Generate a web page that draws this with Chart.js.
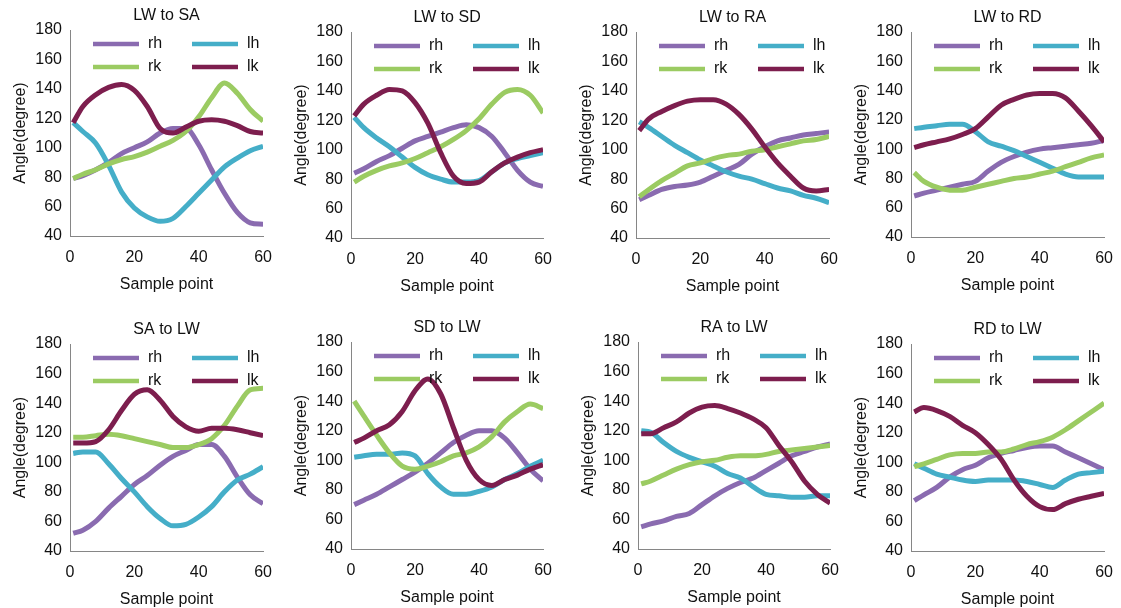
<!DOCTYPE html>
<html>
<head>
<meta charset="utf-8">
<script src="https://cdn.jsdelivr.net/npm/chart.js@4.4.0/dist/chart.umd.min.js"></script>
<style>
  html, body { margin: 0; padding: 0; background: #ffffff; }
  #wrap { position: relative; width: 1121px; height: 608px; overflow: hidden; background: #ffffff; }
  canvas { position: absolute; }
</style>
</head>
<body>
<div id="wrap"></div>
<script>
// ---------- data ----------
const samplePoints = [1, 4, 8, 12, 16, 20, 24, 28, 32, 36, 40, 44, 48, 52, 56, 60];
const seriesNames = ['rh', 'lh', 'rk', 'lk'];
const yTicks = [40, 60, 80, 100, 120, 140, 160, 180];
const xTicks = [0, 20, 40, 60];
const panelTitles = ['LW to SA', 'LW to SD', 'LW to RA', 'LW to RD', 'SA to LW', 'SD to LW', 'RA to LW', 'RD to LW'];

// LW to SA
const lwSA_rh = [79, 81, 85, 90, 96, 100, 104, 110, 113, 113, 102, 85, 69, 56, 49, 48];
const lwSA_lh = [117, 111, 103, 88, 70, 59, 53, 50, 52, 60, 69, 78, 87, 93, 98, 101];
const lwSA_rk = [79, 82, 85, 89, 92, 94, 97, 101, 105, 111, 121, 134, 144, 137, 126, 118];
const lwSA_lk = [117, 128, 136, 141, 143, 139, 128, 113, 110, 114, 118, 119, 118, 115, 111, 110];
// LW to SD
const lwSD_rh = [84, 87, 92, 96, 101, 106, 109, 112, 115, 117, 115, 109, 98, 86, 78, 75];
const lwSD_lh = [122, 115, 108, 102, 95, 88, 83, 80, 78, 78, 79, 85, 91, 94, 96, 98];
const lwSD_rk = [78, 82, 86, 89, 91, 94, 98, 102, 107, 113, 121, 131, 139, 141, 137, 125];
const lwSD_lk = [123, 131, 137, 141, 140, 132, 118, 98, 82, 77, 78, 85, 91, 95, 98, 100];
// LW to RA
const lwRA_rh = [66, 69, 73, 75, 76, 78, 82, 86, 90, 97, 102, 106, 108, 110, 111, 112];
const lwRA_lh = [119, 115, 109, 103, 98, 93, 89, 85, 82, 80, 77, 74, 72, 69, 67, 64];
const lwRA_rk = [68, 73, 79, 84, 89, 91, 94, 96, 97, 99, 100, 102, 104, 106, 107, 109];
const lwRA_lk = [113, 121, 126, 130, 133, 134, 134, 131, 124, 114, 102, 91, 82, 74, 72, 73];
// LW to RD
const lwRD_rh = [68, 70, 72, 74, 76, 78, 85, 91, 95, 98, 100, 101, 102, 103, 104, 106];
const lwRD_lh = [114, 115, 116, 117, 117, 112, 105, 102, 99, 95, 91, 87, 83, 81, 81, 81];
const lwRD_rk = [84, 78, 74, 72, 72, 74, 76, 78, 80, 81, 83, 85, 88, 91, 94, 96];
const lwRD_lk = [101, 103, 105, 107, 110, 114, 122, 130, 134, 137, 138, 138, 135, 126, 116, 105];
// SA to LW
const saLW_rh = [52, 54, 60, 69, 77, 85, 91, 98, 104, 108, 112, 112, 104, 90, 78, 72];
const saLW_lh = [106, 107, 107, 99, 89, 80, 70, 62, 57, 58, 63, 70, 80, 88, 92, 97];
const saLW_rk = [117, 117, 118, 119, 118, 116, 114, 112, 110, 110, 112, 116, 125, 138, 149, 150];
const saLW_lk = [113, 113, 114, 122, 135, 146, 149, 142, 131, 124, 121, 123, 123, 122, 120, 118];
// SD to LW
const sdLW_rh = [70, 73, 77, 82, 87, 92, 98, 105, 112, 117, 120, 120, 115, 105, 94, 86];
const sdLW_lh = [102, 103, 104, 104, 105, 103, 91, 82, 77, 77, 79, 82, 87, 91, 96, 100];
const sdLW_rk = [140, 130, 117, 105, 96, 94, 96, 99, 103, 105, 109, 116, 126, 133, 138, 135];
const sdLW_lk = [112, 115, 120, 124, 133, 147, 155, 145, 122, 100, 87, 83, 87, 90, 94, 97];
// RA to LW
const raLW_rh = [55, 57, 59, 62, 64, 70, 76, 81, 85, 88, 93, 98, 103, 106, 109, 111];
const raLW_lh = [120, 119, 112, 106, 102, 99, 96, 91, 88, 82, 77, 76, 75, 75, 76, 76];
const raLW_rk = [84, 86, 90, 94, 97, 99, 100, 102, 103, 103, 104, 106, 107, 108, 109, 110];
const raLW_lk = [118, 118, 122, 126, 132, 136, 137, 135, 132, 128, 122, 110, 99, 86, 77, 71];
// RD to LW
const rdLW_rh = [74, 78, 83, 90, 95, 98, 103, 106, 108, 110, 111, 111, 107, 103, 99, 95];
const rdLW_lh = [99, 96, 92, 90, 88, 87, 88, 88, 88, 87, 85, 83, 88, 92, 93, 94];
const rdLW_rk = [97, 99, 102, 105, 106, 106, 107, 107, 109, 112, 114, 117, 122, 128, 134, 140];
const rdLW_lk = [134, 137, 135, 131, 125, 120, 112, 102, 88, 77, 70, 68, 72, 75, 77, 79];

const panelSeries = [
  [lwSA_rh, lwSA_lh, lwSA_rk, lwSA_lk],
  [lwSD_rh, lwSD_lh, lwSD_rk, lwSD_lk],
  [lwRA_rh, lwRA_lh, lwRA_rk, lwRA_lk],
  [lwRD_rh, lwRD_lh, lwRD_rk, lwRD_lk],
  [saLW_rh, saLW_lh, saLW_rk, saLW_lk],
  [sdLW_rh, sdLW_lh, sdLW_rk, sdLW_lk],
  [raLW_rh, raLW_lh, raLW_rk, raLW_lk],
  [rdLW_rh, rdLW_lh, rdLW_rk, rdLW_lk]
];

// ---------- styles / layout ----------
const seriesColors = ['#8a6bb0', '#45aec8', '#9bcb62', '#7d1e4e'];
const drawOrder = [4, 3, 2, 1]; // rh at bottom, lk on top
// plot area boxes: [axisX, rightX, topY, bottomY]
const panelBoxes = [
  [70, 268, 30, 236], [351, 548, 32, 238], [636, 834, 32, 238], [911, 1109, 32, 237],
  [70, 268, 344, 551], [351, 548, 342, 549], [638, 835, 342, 549], [911, 1109, 344, 551]
];
const FONT = '"Liberation Sans", Arial, sans-serif';
const TEXT = '#111111';
const AXIS = '#868686';
const Y_W = 68, TOP_H = 30, X_H = 58, RIGHT_PAD = 16;

const innerLegend = {
  id: 'innerLegend',
  afterDatasetsDraw(chart) {
    const { ctx, chartArea } = chart;
    ctx.save();
    chart.data.datasets.forEach((d, i) => {
      const col = i % 2, row = Math.floor(i / 2);
      const x0 = chartArea.left + (col ? 122 : 23);
      const y = chartArea.top + (row ? 37 : 14);
      ctx.strokeStyle = d.borderColor;
      ctx.lineWidth = 4.5;
      ctx.lineCap = 'butt';
      ctx.beginPath();
      ctx.moveTo(x0, y);
      ctx.lineTo(x0 + 46, y);
      ctx.stroke();
      ctx.fillStyle = TEXT;
      ctx.font = '16px ' + FONT;
      ctx.textBaseline = 'middle';
      ctx.textAlign = 'left';
      ctx.fillText(d.label, x0 + 55, y);
    });
    ctx.restore();
  }
};

const wrap = document.getElementById('wrap');
panelSeries.forEach((series, p) => {
  const [ax, rx, ty, by] = panelBoxes[p];
  const cv = document.createElement('canvas');
  const w = Y_W + (rx - ax) + RIGHT_PAD;
  const h = TOP_H + (by - ty) + X_H;
  cv.width = w; cv.height = h;
  cv.style.left = (ax - Y_W) + 'px';
  cv.style.top = (ty - TOP_H) + 'px';
  cv.style.width = w + 'px';
  cv.style.height = h + 'px';
  wrap.appendChild(cv);

  new Chart(cv, {
    type: 'line',
    data: {
      datasets: seriesNames.map((name, i) => ({
        label: name,
        data: samplePoints.map((x, j) => ({ x: x, y: series[i][j] })),
        borderColor: seriesColors[i],
        backgroundColor: seriesColors[i],
        borderWidth: 5,
        pointRadius: 0,
        cubicInterpolationMode: 'monotone',
        fill: false,
        order: drawOrder[i]
      }))
    },
    options: {
      responsive: false,
      animation: false,
      devicePixelRatio: 1,
      layout: { padding: { left: 0, right: RIGHT_PAD, top: 0, bottom: 0 } },
      plugins: {
        legend: { display: false },
        tooltip: { enabled: false },
        title: {
          display: true,
          text: panelTitles[p],
          fullSize: false,
          color: TEXT,
          font: { family: FONT, size: 16, weight: 'normal' },
          padding: { top: 6.4, bottom: 4.4 }
        }
      },
      scales: {
        x: {
          type: 'linear',
          min: 0, max: 60,
          afterBuildTicks: (s) => { s.ticks = xTicks.map(v => ({ value: v })); },
          ticks: { color: TEXT, font: { family: FONT, size: 16 }, padding: 12, maxRotation: 0 },
          grid: { display: false, drawTicks: false },
          border: { display: true, color: AXIS, width: 1 },
          title: { display: true, text: 'Sample point', color: TEXT, font: { family: FONT, size: 16 }, padding: { top: 0, bottom: 0 } },
          afterFit: (s) => { s.height = X_H; }
        },
        y: {
          min: 40, max: 180,
          afterBuildTicks: (s) => { s.ticks = yTicks.map(v => ({ value: v })); },
          ticks: { color: TEXT, font: { family: FONT, size: 16 }, padding: 8 },
          grid: { display: false, drawTicks: false },
          border: { display: true, color: AXIS, width: 1 },
          title: { display: true, text: 'Angle(degree)', color: TEXT, font: { family: FONT, size: 16 }, padding: { top: 9, bottom: 0 } },
          afterFit: (s) => { s.width = Y_W; }
        }
      }
    },
    plugins: [innerLegend]
  });
});
</script>
</body>
</html>
